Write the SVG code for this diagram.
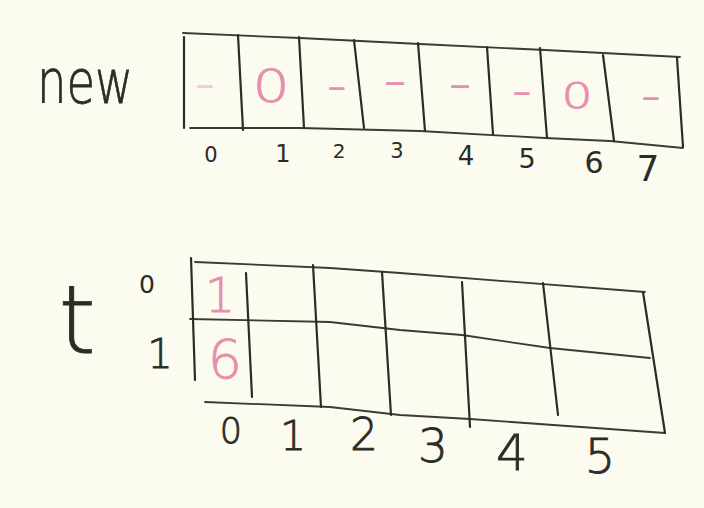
<svg xmlns="http://www.w3.org/2000/svg" width="704" height="508" viewBox="0 0 704 508">
<style>
.ln{fill:none;stroke:#2b2b28;stroke-width:2.2;stroke-linecap:round;stroke-linejoin:round}
.lt{fill:none;stroke:#3a3a36;stroke-width:1.8;stroke-linecap:round;stroke-linejoin:round}
.pk{font-family:"DejaVu Sans","Open Sans",sans-serif;font-weight:200;fill:#e78fae;stroke:#e78fae;stroke-width:0.8;text-anchor:middle}
.ds{font-weight:400;stroke:none}
.bk{font-family:"DejaVu Sans","Open Sans",sans-serif;font-weight:200;fill:#2b2b28;text-anchor:middle}
.th{stroke:#2b2b28;stroke-width:0.8}
.sm{font-weight:400}
</style>
<rect width="704" height="508" fill="#fbfbf0"/>
<g id="label-new"><text class="bk th" x="85" y="103" font-size="60" textLength="96" lengthAdjust="spacingAndGlyphs">new</text></g>
<g id="array-new">
<path class="lt" d="M183 33 L300 38 L420 44 L545 50 L680 57"/>
<path class="lt" d="M190 128 L300 128 L420 131 L545 138 L610 141 L683 148"/>
<path class="ln" d="M184 37 L184 128"/>
<path class="ln" d="M238 35 L243 130"/>
<path class="ln" d="M299 37 L304 128"/>
<path class="ln" d="M354 40 L364 128"/>
<path class="ln" d="M418 43 L425 131"/>
<path class="ln" d="M487 47 L493 134"/>
<path class="ln" d="M540 48 L547 138"/>
<path class="ln" d="M603 55 L614 141"/>
<path class="ln" d="M677 58 L683 147"/>
</g>
<g id="new-values">
<text class="pk ds" transform="translate(205,96) scale(1.6,1)" font-size="36" opacity="0.45">-</text>
<text class="pk" transform="translate(271,102) scale(1.3,1)" font-size="45">0</text>
<text class="pk ds" transform="translate(337,98) scale(1.6,1)" font-size="36">-</text>
<text class="pk ds" transform="translate(395,93) scale(1.9,1)" font-size="36">-</text>
<text class="pk ds" transform="translate(460,96) scale(1.9,1)" font-size="36">-</text>
<text class="pk ds" transform="translate(522,103) scale(1.6,1)" font-size="36">-</text>
<text class="pk" transform="translate(577,108) scale(1.4,1)" font-size="35">0</text>
<text class="pk ds" transform="translate(651,108) scale(1.6,1)" font-size="36">-</text>
</g>
<g id="new-index">
<text class="bk sm" x="211" y="162" font-size="21">0</text>
<text class="bk sm" x="283" y="162" font-size="24">1</text>
<text class="bk sm" x="339" y="158" font-size="20">2</text>
<text class="bk sm" x="397" y="158" font-size="21">3</text>
<text class="bk sm" x="466" y="165" font-size="26">4</text>
<text class="bk sm" x="527" y="168" font-size="27">5</text>
<text class="bk sm" x="594" y="173" font-size="30">6</text>
<text class="bk sm" x="648" y="181" font-size="36">7</text>
</g>
<g id="label-t"><text class="bk th" x="77" y="353" font-size="95">t</text></g>
<g id="t-rows">
<text class="bk sm" x="147" y="293" font-size="25">0</text>
<text class="bk th" x="160" y="368" font-size="40">1</text>
</g>
<g id="table-t">
<path class="lt" d="M195 262 L330 268 L400 273 L645 292"/>
<path class="lt" d="M190 319 L330 322 L400 330 L462 335 L550 348 L650 358"/>
<path class="lt" d="M205 402 L330 407 L400 415 L470 419 L665 433"/>
<path class="ln" d="M191 258 L195 380"/>
<path class="ln" d="M246 273 L252 397"/>
<path class="ln" d="M313 265 L321 407"/>
<path class="ln" d="M382 272 L391 415"/>
<path class="ln" d="M462 282 L470 427"/>
<path class="ln" d="M543 283 L558 415"/>
<path class="ln" d="M643 292 L665 433"/>
</g>
<g id="t-values">
<text class="pk" x="220" y="312" font-size="48">1</text>
<text class="pk" x="225" y="378" font-size="54">6</text>
</g>
<g id="t-index">
<text class="bk th" x="231" y="443" font-size="35">0</text>
<text class="bk th" x="293" y="450" font-size="41">1</text>
<text class="bk th" x="364" y="450" font-size="44">2</text>
<text class="bk th" x="433" y="462" font-size="47">3</text>
<text class="bk th" x="512" y="470" font-size="50">4</text>
<text class="bk th" x="600" y="473" font-size="48">5</text>
</g>
</svg>
